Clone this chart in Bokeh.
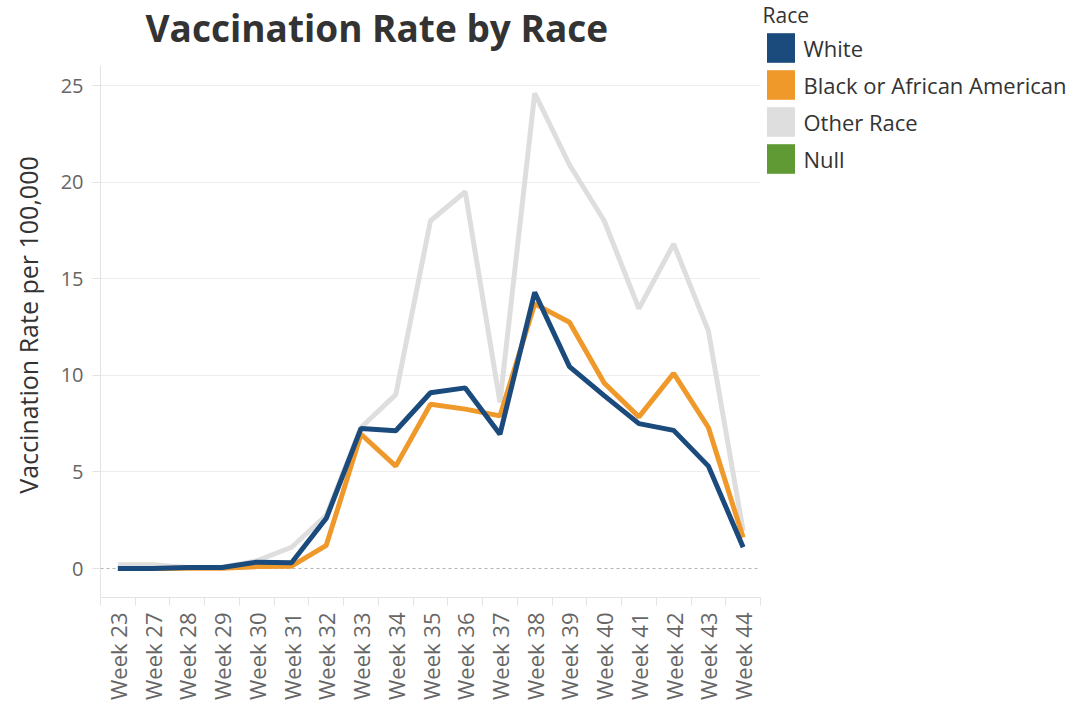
import math
from bokeh.plotting import figure
from bokeh.models import FixedTicker, Range1d, Grid, Legend, LegendItem, Label
from bokeh.embed import file_html
from bokeh.resources import INLINE

weeks = ["Week 23", "Week 27", "Week 28", "Week 29", "Week 30", "Week 31", "Week 32",
         "Week 33", "Week 34", "Week 35", "Week 36", "Week 37", "Week 38", "Week 39",
         "Week 40", "Week 41", "Week 42", "Week 43", "Week 44"]
white = [0.0, 0.0, 0.05, 0.05, 0.33, 0.3, 2.6, 7.25, 7.13, 9.1, 9.35, 6.95, 14.3, 10.45,
         8.95, 7.5, 7.15, 5.3, 1.1]
black = [0.0, 0.0, 0.02, 0.02, 0.1, 0.12, 1.2, 6.95, 5.3, 8.5, 8.25, 7.9, 13.7, 12.75,
         9.6, 7.85, 10.1, 7.3, 1.6]
other = [0.2, 0.2, 0.05, 0.05, 0.4, 1.1, 2.75, 7.3, 9.0, 18.0, 19.5, 8.6, 24.6, 20.9,
         18.0, 13.45, 16.8, 12.3, 1.95]
null = [float("nan")] * len(weeks)   # "Null" race: no values shown in the chart
legend_names = ["White", "Black or African American", "Other Race", "Null"]
legend_colors = ["#1b4a7c", "#f0992b", "#dedede", "#5f9a35"]
y_ticks = [0, 5, 10, 15, 20, 25]

FONT = "Open Sans"
xs = list(range(len(weeks)))
n = len(weeks)

# plot area: categories occupy x in [-0.5, n-0.5]; values in [-1.5, 26.035]
PX_X = 660 / n
FRAME_W = 975
FRAME_H = 597
PX_Y = 19.32
x_end = -0.5 + FRAME_W / PX_X
y_lo = -1.5
y_top_axis = 26.035
y_end = y_lo + FRAME_H / PX_Y

p = figure(frame_width=FRAME_W, frame_height=FRAME_H,
           x_range=Range1d(-0.5, x_end), y_range=Range1d(y_lo, y_end),
           output_backend="svg", toolbar_location=None,
           min_border_left=100, min_border_right=0, min_border_top=0, min_border_bottom=107)

p.outline_line_color = None
p.xgrid.grid_line_color = None
p.ygrid.ticker = FixedTicker(ticks=y_ticks[1:])
p.ygrid.grid_line_color = "#ededed"
p.ygrid.cross_bounds = (-0.5, n - 0.5)

zero_grid = Grid(dimension=1, ticker=FixedTicker(ticks=[0]), grid_line_color="#b5b5b5",
                 grid_line_dash="3 3", grid_line_width=1, cross_bounds=(-0.5, n - 0.5))
p.add_layout(zero_grid)

series = [white, black, other, null]
p.line(xs, other, line_color=legend_colors[2], line_width=5)
p.line(xs, black, line_color=legend_colors[1], line_width=5)
p.line(xs, white, line_color=legend_colors[0], line_width=5)

# x axis
p.xaxis.bounds = (-0.5, n - 0.5)
p.xaxis.ticker = FixedTicker(ticks=xs, minor_ticks=[i - 0.5 for i in range(n + 1)])
p.xaxis.major_label_overrides = {i: w for i, w in enumerate(weeks)}
p.xaxis.major_label_orientation = math.pi / 2
p.xaxis.major_tick_line_color = None
p.xaxis.major_tick_out = 0
p.xaxis.minor_tick_line_color = "#e3e3e3"
p.xaxis.minor_tick_out = 8
p.xaxis.minor_tick_in = 0
p.xaxis.axis_line_color = "#e3e3e3"
p.xaxis.major_label_standoff = 7
p.xaxis.major_label_text_font = FONT
p.xaxis.major_label_text_font_size = "22px"
p.xaxis.major_label_text_color = "#666666"

# y axis
p.yaxis.bounds = (y_lo, y_top_axis)
p.yaxis.ticker = FixedTicker(ticks=y_ticks)
p.yaxis.axis_line_color = "#e3e3e3"
p.yaxis.major_tick_line_color = "#e3e3e3"
p.yaxis.major_tick_out = 8
p.yaxis.major_tick_in = 0
p.yaxis.minor_tick_line_color = None
p.yaxis.major_label_standoff = 9
p.yaxis.major_label_text_font = FONT
p.yaxis.major_label_text_font_size = "20px"
p.yaxis.major_label_text_color = "#666666"
# trailing no-break spaces centre the label on the value axis rather than the whole frame
p.yaxis.axis_label = "Vaccination Rate per 100,000" + "\u00a0" * 8
p.yaxis.axis_label_text_font = FONT
p.yaxis.axis_label_text_font_size = "25px"
p.yaxis.axis_label_text_font_style = "normal"
p.yaxis.axis_label_text_color = "#333333"
p.yaxis.axis_label_standoff = 13

# title
p.add_layout(Label(x=45, y=FRAME_H - 27, x_units="screen", y_units="screen",
                   text="Vaccination Rate by Race", text_font=FONT, text_font_size="37px",
                   text_font_style="bold", text_color="#333333", text_baseline="alphabetic",
                   text_align="left"))

# legend swatches (hidden renderers carrying each series)
items = []
for name, color, vals in zip(legend_names, legend_colors, series):
    r = p.vbar(x=xs, top=vals, width=0.8, fill_color=color, line_color=None, visible=False)
    items.append(LegendItem(label=name, renderers=[r]))
legend = Legend(items=items, location=(662.5, FRAME_H - 177), title="Race",
                glyph_width=35, glyph_height=37, spacing=0, padding=0, margin=0,
                label_standoff=6, label_text_font=FONT, label_text_font_size="22px",
                label_text_color="#333333", title_text_font=FONT, title_text_font_size="21px",
                title_text_font_style="normal", title_text_color="#333333", title_standoff=0,
                border_line_alpha=0, background_fill_alpha=0, inactive_fill_alpha=0)
p.add_layout(legend)

open("out.html", "w").write(file_html(p, INLINE))
